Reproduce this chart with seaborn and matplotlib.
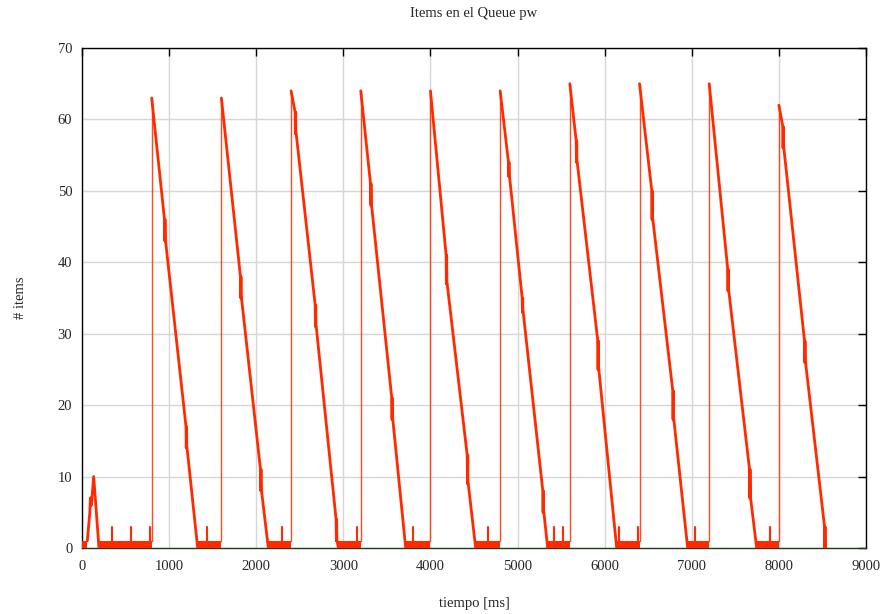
import matplotlib
matplotlib.use("Agg")
import matplotlib.pyplot as plt
import numpy as np
import pandas as pd
import seaborn as sns

# ---------------- data ----------------
title = "Items en el Queue pw"
xlabel = "tiempo [ms]"
ylabel = "# items"

x_ticks = [0, 1000, 2000, 3000, 4000, 5000, 6000, 7000, 8000, 9000]
y_ticks = [0, 10, 20, 30, 40, 50, 60, 70]

# start-up ramp
ramp_t = [61, 90, 96, 100, 104, 108, 134, 195]
ramp_v = [1, 5, 7, 6, 7, 6, 10, 0]

# burst cycles: jump time, peak value, time the queue is empty again
peak_times = [800, 1600, 2400, 3200, 4000, 4800, 5600, 6400, 7200, 8000]
peak_values = [63, 63, 64, 64, 64, 64, 65, 65, 65, 62]
empty_times = [1328, 2139, 2943, 3716, 4519, 5346, 6138, 6953, 7745, 8540]

# notches (time, high value, low value) on each decline
notches = [
    [(953, 46, 43), (1200, 17, 14)],
    [(1825, 38, 35), (2055, 11, 8)],
    [(2453, 61, 58), (2683, 34, 31), (2923, 4, 1)],
    [(3318, 51, 48), (3562, 21, 18)],
    [(4186, 41, 37), (4428, 13, 9)],
    [(4902, 54, 52), (5059, 35, 33), (5296, 8, 5)],
    [(5679, 57, 54), (5927, 29, 25)],
    [(6547, 50, 46), (6788, 22, 18)],
    [(7419, 39, 36), (7669, 11, 7)],
    [(8051, 59, 56), (8300, 29, 26), (8530, 3, 0)],
]

# idle periods where the queue flickers between 0 and 1
band_start = [0, 195, 1328, 2139, 2943, 3716, 4519, 5346, 6138, 6953, 7745]
band_end = [61, 800, 1600, 2400, 3200, 4000, 4800, 5600, 6400, 7200, 8000]

# short spikes to 3 items during idle periods
spike_times = [348, 566, 784, 1431, 2292, 3153, 3800, 4665, 5418, 5518,
               6168, 6386, 7037, 7898]
spike_value = 3

# ---------------- styling ----------------
RED = "#ff2a00"
sns.set_style("white")
plt.rcParams["font.family"] = ["Liberation Serif", "DejaVu Serif"]

fig = plt.figure(figsize=(8.83, 6.14), dpi=100)
ax = fig.add_axes([82 / 883, 66 / 614, 784 / 883, 500 / 614])

# idle bands
for a, b in zip(band_start, band_end):
    ax.fill_between([a, b], 0, 1, color=RED, lw=0, zorder=3)

# ramp
sns.lineplot(x=ramp_t, y=ramp_v, sort=False, estimator=None, ax=ax,
             color=RED, lw=2.0, zorder=4)

# spikes
for t in spike_times:
    sns.lineplot(x=[t, t], y=[1, spike_value], sort=False, estimator=None,
                 ax=ax, color=RED, lw=1.5, zorder=4)

# jumps and declines
for pt, pv, et, nl in zip(peak_times, peak_values, empty_times, notches):
    sns.lineplot(x=[pt, pt], y=[1, pv], sort=False, estimator=None, ax=ax,
                 color=RED, lw=1.0, alpha=0.85, zorder=4)
    xs = [pt]
    ys = [pv]
    for (t, hi, lo) in nl:
        xs += [t - 6, t - 3, t, t + 3, t + 6]
        ys += [hi, lo, hi, lo, lo]
    xs.append(et)
    ys.append(0)
    sns.lineplot(x=xs, y=ys, sort=False, estimator=None, ax=ax,
                 color=RED, lw=2.0, zorder=4)

ax.set_xlim(0, 9000)
ax.set_ylim(0, 70)
ax.set_xticks(x_ticks)
ax.set_yticks(y_ticks)
ax.set_xticklabels([str(v) for v in x_ticks])
ax.set_yticklabels([str(v) for v in y_ticks])
ax.tick_params(direction="in", length=6, width=1, top=True, right=True,
               labelsize=10.5, color="black")
ax.tick_params(axis="x", pad=9)
ax.tick_params(axis="y", pad=7)
ax.grid(True, color="#d6d6d6", lw=1)
ax.set_axisbelow(True)
for s in ax.spines.values():
    s.set_color("black")
    s.set_linewidth(1)
ax.spines["bottom"].set_color("#203c20")
ax.set_xlabel("")
ax.set_ylabel("")

fig.text(474 / 883, 1 - 14 / 614, title, ha="center", va="center", fontsize=10.5)
fig.text(474 / 883, 1 - 603 / 614, xlabel, ha="center", va="center", fontsize=10.5)
fig.text(20 / 883, 1 - 298 / 614, ylabel, ha="center", va="center",
         rotation=90, fontsize=10.5)

fig.savefig("out.png", dpi=100)
